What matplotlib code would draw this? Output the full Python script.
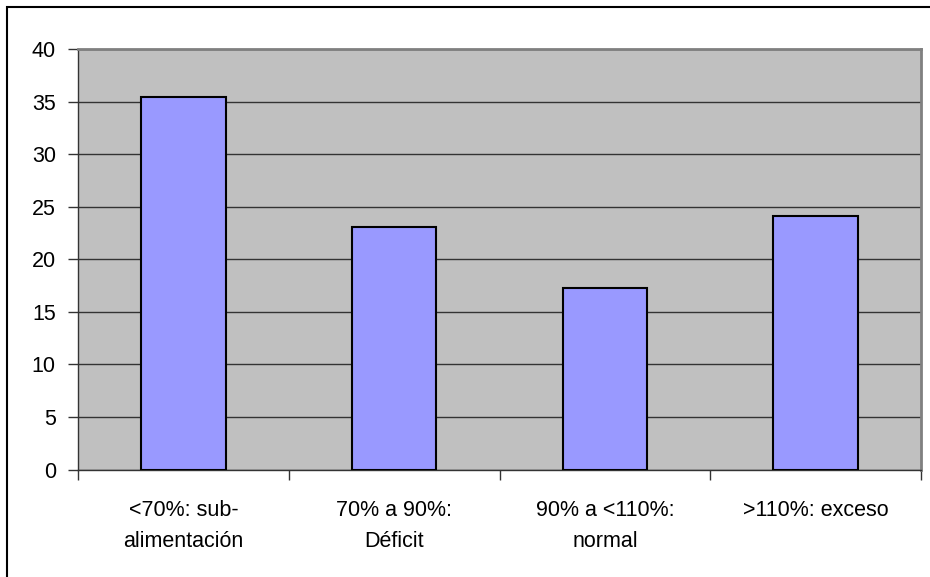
import matplotlib.pyplot as plt
from matplotlib.patches import Rectangle
import numpy as np

plt.rcParams['font.family'] = ['Liberation Sans', 'DejaVu Sans']

# Porcentaje por categoria de adecuacion
categorias = ['<70%: sub-\nalimentación', '70% a 90%:\nDéficit',
              '90% a <110%:\nnormal', '>110%: exceso']
valores = [35.5, 23.1, 17.3, 24.1]
yticks = [0, 5, 10, 15, 20, 25, 30, 35, 40]

fig = plt.figure(figsize=(9.3, 5.77), dpi=100)
ax = fig.add_axes([78 / 930, 1 - 469.5 / 577, 843 / 930, 420.2 / 577])

x = np.arange(len(categorias))
ax.set_facecolor('#C0C0C0')
ax.bar(x, valores, width=0.4, color='#9999FF', edgecolor='black',
       linewidth=1.5, zorder=3)

ax.set_xlim(-0.5, len(categorias) - 0.5)
ax.set_ylim(0, 40)
ax.set_yticks(yticks)
ax.yaxis.grid(True, color='#333333', linewidth=1, zorder=1)

# etiquetas centradas, marcas de division entre categorias
ax.set_xticks(x)
ax.set_xticklabels(categorias, linespacing=1.62)
ax.set_xticks(np.arange(len(categorias) + 1) - 0.5, minor=True)
ax.tick_params(axis='x', which='major', length=0, pad=22, labelsize=15.5)
ax.tick_params(axis='x', which='minor', length=7, width=1, color='#333333')
ax.tick_params(axis='y', length=7, width=1, color='#333333', pad=9,
               labelsize=15.5)

for side in ['top', 'right']:
    ax.spines[side].set_color('#808080')
    ax.spines[side].set_linewidth(2)
for side in ['left', 'bottom']:
    ax.spines[side].set_color('#333333')
    ax.spines[side].set_linewidth(1)

# marco exterior del grafico
fig.patches.append(Rectangle((7 / 930, -0.1), 1.1, 1 - 7 / 577 + 0.1,
                             transform=fig.transFigure, fill=False,
                             edgecolor='black', linewidth=1.5))

fig.savefig('out.png', dpi=100)
